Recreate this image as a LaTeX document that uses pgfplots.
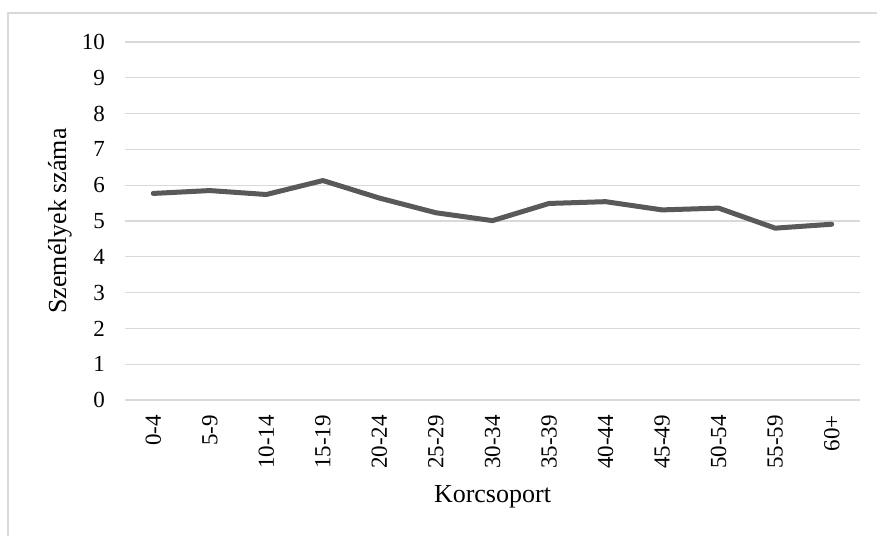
\documentclass[border=0pt]{standalone}
\usepackage{fontspec}
\setmainfont{Liberation Serif}
\usepackage{pgfplots}
\pgfplotsset{compat=1.18}
\definecolor{gridgray}{HTML}{D9D9D9}
\definecolor{linegray}{HTML}{595959}
\begin{document}
\begin{tikzpicture}
\begin{axis}[
    at={(0,0)}, anchor=south west,
    scale only axis,
    width=367.5pt, height=179pt,
    xmin=-0.5, xmax=12.5,
    ymin=0, ymax=10,
    ytick={0,1,...,10},
    xtick=data,
    xticklabels={0-4,5-9,10-14,15-19,20-24,25-29,30-34,35-39,40-44,45-49,50-54,55-59,60+},
    axis line style={draw=none},
    major tick length=0pt,
    ymajorgrids,
    grid style={gridgray, line width=0.6pt},
    /pgf/number format/assume math mode=true,
    tick label style={font=\fontsize{11.5}{13}\selectfont},
    yticklabel style={xshift=-6.5pt},
    xticklabel style={rotate=90, anchor=east, xshift=-4pt},
    label style={font=\fontsize{13}{15}\selectfont},
    xlabel={Korcsoport},
    xlabel style={at={(axis description cs:0.5,0)}, anchor=center, yshift=-48.5pt},
    ylabel={Személyek száma},
    ylabel style={at={(axis description cs:0,0.5)}, anchor=center, rotate=0, yshift=32.5pt},
]
\addplot[linegray, line width=2.5pt, line join=round, line cap=round, mark=none] coordinates {
    (0,5.77) (1,5.85) (2,5.74) (3,6.13) (4,5.64) (5,5.23) (6,5.01)
    (7,5.49) (8,5.54) (9,5.31) (10,5.36) (11,4.80) (12,4.91)
};
\end{axis}
\draw[gridgray, line width=0.6pt] (-58.5pt,-80pt) -- (-58.5pt,193.5pt) -- (390pt,193.5pt);
\pgfresetboundingbox
\path[use as bounding box] (-62.5pt,-67.5pt) rectangle (376pt,200pt);
\end{tikzpicture}
\end{document}
